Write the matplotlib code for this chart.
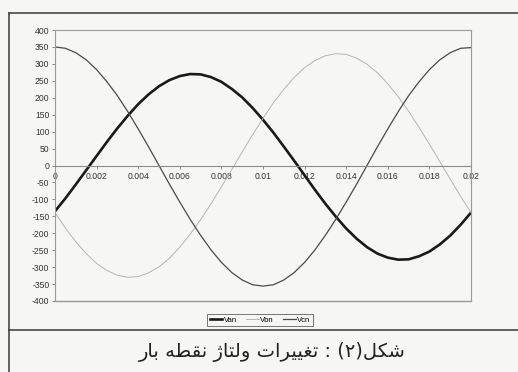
import matplotlib.pyplot as plt
import numpy as np

# time axis (s), sampled every 0.5 ms
t = [i * 0.0005 for i in range(41)]

# phase voltages
van = [-135, -97, -56, -14, 28, 70, 110, 147, 181, 210, 234, 252, 264, 270, 269,
       261, 247, 226, 201, 170, 135, 97, 56, 14, -29, -72, -113, -151, -186, -216,
       -241, -260, -272, -278, -277, -268, -254, -233, -207, -175, -139]
vbn = [-139, -185, -225, -260, -289, -310, -324, -330, -328, -317, -299, -274, -241,
       -203, -160, -113, -63, -12, 40, 91, 139, 185, 225, 260, 289, 310, 324, 330,
       328, 317, 299, 274, 241, 203, 160, 113, 63, 12, -40, -91, -139]
vcn = [350, 346, 333, 312, 283, 247, 206, 159, 108, 55, 0, -55, -108, -159, -206,
       -249, -286, -316, -338, -352, -356, -352, -338, -316, -286, -249, -206, -159,
       -108, -55, 0, 55, 108, 159, 206, 247, 283, 312, 333, 346, 348]

series = ['Van', 'Vbn', 'Vcn']
xticks = [0, 0.002, 0.004, 0.006, 0.008, 0.01, 0.012, 0.014, 0.016, 0.018, 0.02]
xticklabels = ['0', '0.002', '0.004', '0.006', '0.008', '0.01', '0.012', '0.014',
               '0.016', '0.018', '0.02']
yticks = list(range(-400, 401, 50))

# caption, written in visual order with Arabic presentation forms
caption = ('\uFEAD\uFE8E\uFE91 \uFEEA\uFEC4\uFED8\uFEE7 '
           '\u0698\uFE8E\uFE98\uFEDF\u0648 '
           '\u062A\u0627\uFEAE\uFEF4\uFEF4\uFED0\uFE97 : (\u06F2)\uFEDE\uFB91\uFEB7')

bg = '#f6f6f4'
fig = plt.figure(figsize=(5.18, 3.72), dpi=100, facecolor=bg)
ax = fig.add_axes([55/518, 1-301/372, 416/518, 271/372])
ax.set_facecolor(bg)

ax.plot(t, van, color='#1a1a1a', lw=1.9, label=series[0])
ax.plot(t, vbn, color='#b4b4b4', lw=0.7, label=series[1])
ax.plot(t, vcn, color='#4a4a4a', lw=0.9, label=series[2])

ax.set_xlim(0, 0.02)
ax.set_ylim(-400, 400)

# plot area border
for s in ['left', 'right', 'top']:
    ax.spines[s].set_color('#9a9a9a')
    ax.spines[s].set_linewidth(0.8)
ax.axhline(-400, color='#9a9a9a', lw=1.0, clip_on=False)
# x axis crosses at zero
ax.spines['bottom'].set_position(('data', 0))
ax.spines['bottom'].set_color('#8a8a8a')
ax.spines['bottom'].set_linewidth(0.8)

ax.set_xticks(xticks)
ax.set_xticklabels(xticklabels)
ax.set_yticks(yticks)
ax.set_yticklabels([str(v) for v in yticks])
ax.tick_params(axis='both', labelsize=6.2, colors='#8a8a8a', labelcolor='#333333',
               length=2.5, width=0.7)
ax.tick_params(axis='y', pad=1.5)
ax.tick_params(axis='x', pad=2.5)
for lab in ax.get_xticklabels() + ax.get_yticklabels():
    lab.set_family('Liberation Sans')

leg = fig.legend(loc='center', bbox_to_anchor=(260/518, 1-320/372), ncol=3,
                 prop={'family': 'Liberation Sans', 'size': 5.6},
                 handlelength=1.6, handletextpad=0.2, columnspacing=1.2,
                 frameon=True, fancybox=False, borderpad=0.3, borderaxespad=0)
leg.get_frame().set_edgecolor('#555555')
leg.get_frame().set_linewidth(0.7)
leg.get_frame().set_facecolor(bg)

# table frame around the figure
fig.add_artist(plt.Line2D([9/518, 1], [1-13/372, 1-13/372], color='#3a3a3a', lw=1.1))
fig.add_artist(plt.Line2D([9/518, 1], [1-330/372, 1-330/372], color='#3a3a3a', lw=1.1))
fig.add_artist(plt.Line2D([9/518, 9/518], [0, 1-13/372], color='#3a3a3a', lw=1.1))

fig.text(272/518, 1-352/372, caption, ha='center', va='center', fontsize=14,
         family=['DejaVu Sans'], color='#222222')

fig.savefig('out.png', dpi=100, facecolor=bg)
